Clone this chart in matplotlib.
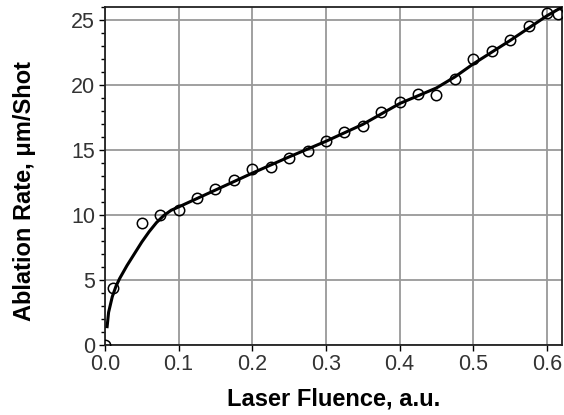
import numpy as np
import matplotlib.pyplot as plt
from matplotlib.ticker import MultipleLocator

plt.rcParams['font.family'] = ['Liberation Sans', 'DejaVu Sans']

# measured points (open circles)
fluence = [0.0, 0.0104, 0.05, 0.075, 0.1, 0.125, 0.15, 0.175, 0.2, 0.225,
           0.25, 0.275, 0.3, 0.325, 0.35, 0.375, 0.4, 0.425, 0.45, 0.475,
           0.5, 0.525, 0.55, 0.575, 0.6, 0.615]
rate = [0.0, 4.4, 9.4, 10.0, 10.35, 11.3, 12.0, 12.7, 13.5, 13.7,
        14.4, 14.9, 15.7, 16.4, 16.8, 17.9, 18.7, 19.3, 19.2, 20.4,
        22.0, 22.6, 23.4, 24.5, 25.5, 25.4]

# fitted curve (solid line)
fit_x = [0.003, 0.005, 0.01, 0.015, 0.02, 0.03, 0.04, 0.05, 0.06, 0.07,
         0.08, 0.09, 0.1, 0.15, 0.2, 0.25, 0.3, 0.35, 0.4, 0.45,
         0.475, 0.5, 0.55, 0.6, 0.62]
fit_y = [1.4, 2.5, 3.7, 4.5, 5.1, 6.1, 7.0, 7.9, 8.7, 9.4,
         9.95, 10.35, 10.6, 11.9, 13.2, 14.45, 15.65, 16.95, 18.55, 19.75,
         20.6, 21.6, 23.4, 25.3, 25.95]

fig = plt.figure(figsize=(5.64, 4.15), dpi=100)
ax = fig.add_axes([0.186, 0.169, 0.81, 0.815])

ax.plot(fit_x, fit_y, color='black', lw=2.2, zorder=3)
ax.plot(fluence, rate, 'o', mfc='none', mec='black', mew=1.1, ms=7.5, zorder=4)

ax.set_xlim(0, 0.62)
ax.set_ylim(0, 26)
ax.set_xticks(np.arange(0, 0.61, 0.1))
ax.set_xticklabels(['0.0', '0.1', '0.2', '0.3', '0.4', '0.5', '0.6'])
ax.yaxis.set_major_locator(MultipleLocator(5))
ax.yaxis.set_minor_locator(MultipleLocator(1))

ax.grid(True, which='major', color='#999999', lw=1.3)
ax.set_axisbelow(True)

ax.tick_params(axis='both', which='major', direction='out', length=4.5, width=1,
               labelsize=15.5, labelcolor='#333333', pad=2.5)
ax.tick_params(axis='y', which='minor', direction='out', length=3, width=1)
ax.tick_params(axis='x', which='major', length=4)

for s in ax.spines.values():
    s.set_linewidth(1.3)
    s.set_color('#222222')

ax.set_xlabel('Laser Fluence, a.u.', fontsize=17, fontweight='bold')
ax.set_ylabel('Ablation Rate, μm/Shot', fontsize=17, fontweight='bold')
ax.xaxis.set_label_coords(0.5, -0.125)
ax.yaxis.set_label_coords(-0.15, 0.455)

fig.savefig('out.png', dpi=100)
